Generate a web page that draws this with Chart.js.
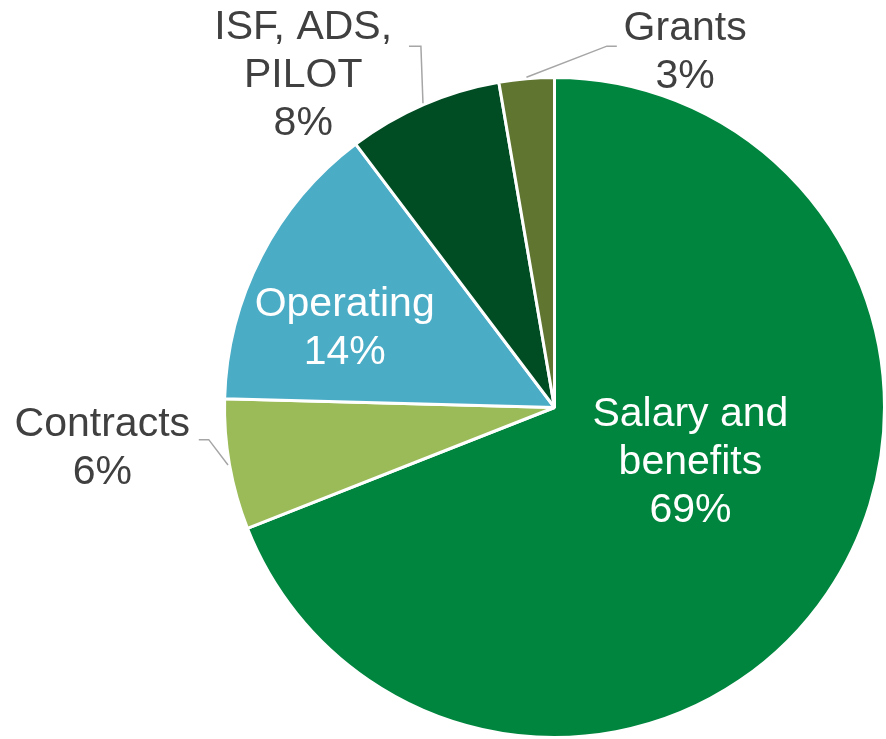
<!DOCTYPE html>
<html lang="en">
<head>
  <meta charset="UTF-8" />
  <title>Spending by category</title>
  <style>
    * { margin: 0; padding: 0; }
    body { background: #fff; }
    .chartBox { width: 886px; height: 739px; }
  </style>
</head>
<body>
  <div class="chartBox">
    <canvas id="myChart"></canvas>
  </div>
  <script src="https://cdn.jsdelivr.net/npm/chart.js@4/dist/chart.umd.min.js"></script>
  <script>
    // data
    const categories = [
      ["Salary and", "benefits"],
      ["Contracts"],
      ["Operating"],
      ["ISF, ADS,", "PILOT"],
      ["Grants"],
    ];
    const values = [69.1, 6.4, 14.3, 7.6, 2.7];

    const colors = ["#00853E", "#9BBB59", "#4BACC6", "#004D24", "#5F7530"];

    // label placement, in units of the pie radius from the centre
    // inside: white text; outside: grey text with a leader line
    const labelStyle = [
      { dx: 0.41, dy: 0.165, inside: true },
      { dx: -1.364, dy: 0.124, inside: false, lx: -1.073, ly: 0.097, hx: 0.03 },
      { dx: -0.633, dy: -0.239, inside: true },
      { dx: -0.758, dy: -1.0, inside: false, lx: -0.439, ly: -1.09, hx: 0.036 },
      { dx: 0.394, dy: -1.07, inside: false, lx: 0.188, ly: -1.09, hx: -0.03 },
    ];

    const pieLabels = {
      id: "pieLabels",
      afterDatasetsDraw(chart) {
        const ctx = chart.ctx;
        const meta = chart.getDatasetMeta(0);
        const total = values.reduce((a, b) => a + b, 0);
        ctx.save();
        ctx.font = "41px 'Liberation Sans', Arial, sans-serif";
        ctx.textAlign = "center";
        ctx.textBaseline = "middle";
        meta.data.forEach((arc, i) => {
          const s = labelStyle[i];
          const r = arc.outerRadius + arc.options.borderWidth / 2;
          const lines = categories[i].concat([Math.round(values[i] / total * 100) + "%"]);
          const cx = arc.x + s.dx * r;
          const cy = arc.y + s.dy * r;
          if (!s.inside) {
            const mid = (arc.startAngle + arc.endAngle) / 2;
            const ex = arc.x + Math.cos(mid) * r;
            const ey = arc.y + Math.sin(mid) * r;
            const sx = arc.x + s.lx * r;
            const sy = arc.y + s.ly * r;
            ctx.strokeStyle = "#A6A6A6";
            ctx.lineWidth = 1.5;
            ctx.beginPath();
            ctx.moveTo(sx, sy);
            ctx.lineTo(sx + s.hx * r, sy);
            ctx.lineTo(ex, ey);
            ctx.stroke();
          }
          ctx.fillStyle = s.inside ? "#ffffff" : "#404040";
          const lh = 48;
          const top = cy - (lines.length - 1) * lh / 2;
          lines.forEach((t, k) => ctx.fillText(t, cx, top + k * lh));
        });
        ctx.restore();
      },
    };

    const data = {
      labels: categories,
      datasets: [
        {
          data: values,
          backgroundColor: colors,
          borderColor: "#ffffff",
          borderWidth: 3,
        },
      ],
    };

    const options = {
      responsive: true,
      maintainAspectRatio: false,
      animation: false,
      layout: {
        padding: { left: 223, top: 76, right: 0, bottom: 0 },
      },
      plugins: {
        legend: { display: false },
        tooltip: { enabled: false },
      },
    };

    const config = {
      type: "pie",
      data: data,
      options: options,
      plugins: [pieLabels],
    };

    const ctx = document.getElementById("myChart").getContext("2d");
    const myChart = new Chart(ctx, config);
  </script>
</body>
</html>
